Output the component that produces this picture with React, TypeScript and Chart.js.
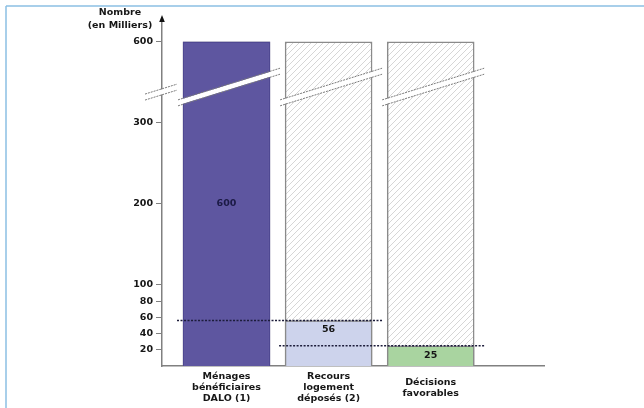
import React, { useEffect, useRef } from 'react';
import { Chart, registerables } from 'chart.js';
Chart.register(...registerables);

const categories = [
  ['Ménages', 'bénéficiaires', 'DALO (1)'],
  ['Recours', 'logement', 'déposés (2)'],
  ['Décisions', 'favorables'],
];
const values = [600, 56, 25];
const totals = [600, 600, 600];
const yTickValues = [20, 40, 60, 80, 100, 200, 300, 600];
const yTitle = ['Nombre', '(en Milliers)'];
const breakStart = 300;
const breakEnd = 600;
const breakMark = 430;
const barColors = ['#5e56a0', '#cdd3ec', '#a9d4a0'];
const barBorders = ['#4f4892', '#8a8a8a', '#8a8a8a'];
const labelPlacement = ['center', 'top', 'center'];

const FONT = '"DejaVu Sans", Verdana, sans-serif';
const TEXT = '#161616';

// axis position with the break between 300 and 600 compressed
const pos = (v: number) => (v <= breakStart ? v : breakStart + ((v - breakStart) * 100) / (breakEnd - breakStart));

function makeHatch(): CanvasPattern | string {
  const c = document.createElement('canvas');
  c.width = 6;
  c.height = 6;
  const g = c.getContext('2d');
  if (!g) return '#fff';
  g.fillStyle = '#ffffff';
  g.fillRect(0, 0, 6, 6);
  g.strokeStyle = '#d6d6d6';
  g.lineWidth = 1;
  g.beginPath();
  g.moveTo(0, 6); g.lineTo(6, 0);
  g.moveTo(-1, 1); g.lineTo(1, -1);
  g.moveTo(5, 7); g.lineTo(7, 5);
  g.stroke();
  return g.createPattern(c, 'repeat') || '#fff';
}

const decorPlugin = {
  id: 'decor',
  beforeDraw(chart: any) {
    const ctx = chart.ctx;
    ctx.save();
    ctx.strokeStyle = '#8cc0e4';
    ctx.lineWidth = 1.5;
    ctx.beginPath();
    ctx.moveTo(6, 6); ctx.lineTo(chart.width, 6);
    ctx.moveTo(6, 6); ctx.lineTo(6, chart.height);
    ctx.stroke();
    ctx.restore();
  },
  afterDraw(chart: any) {
    const ctx = chart.ctx;
    const ys = chart.scales.y;
    const area = chart.chartArea;
    const overlay = chart.getDatasetMeta(1);
    const back = chart.getDatasetMeta(0);
    ctx.save();

    // dotted level lines
    ctx.strokeStyle = '#1c1c3a';
    ctx.lineWidth = 1.5;
    ctx.setLineDash([2, 1.5]);
    overlay.data.forEach((bar: any, i: number) => {
      if (i === 0) return;
      const prev = overlay.data[i - 1];
      const x0 = prev.x - prev.width / 2 - 6;
      const x1 = bar.x + bar.width / 2 + 10;
      ctx.beginPath();
      ctx.moveTo(x0, bar.y);
      ctx.lineTo(x1, bar.y);
      ctx.stroke();
    });
    ctx.setLineDash([]);

    // value labels
    ctx.font = `bold 9.5px ${FONT}`;
    ctx.textAlign = 'center';
    ctx.textBaseline = 'middle';
    overlay.data.forEach((bar: any, i: number) => {
      const y = labelPlacement[i] === 'center' ? (bar.y + bar.base) / 2 : bar.y + 9;
      ctx.fillStyle = i === 0 ? '#1b1a45' : TEXT;
      ctx.fillText(String(values[i]), bar.x, y);
    });

    // break marks
    const slope = 0.31;
    const cyBase = ys.getPixelForValue(pos(breakMark));
    const drawBreak = (x0: number, x1: number, cx: number, cy: number, dashColor: string) => {
      const yAt = (x: number) => cy - (x - cx) * slope;
      const h = 3;
      ctx.fillStyle = '#ffffff';
      ctx.beginPath();
      ctx.moveTo(x0, yAt(x0) - h + 0.5);
      ctx.lineTo(x1, yAt(x1) - h + 0.5);
      ctx.lineTo(x1, yAt(x1) + h - 0.5);
      ctx.lineTo(x0, yAt(x0) + h - 0.5);
      ctx.closePath();
      ctx.fill();
      ctx.strokeStyle = dashColor;
      ctx.lineWidth = 1;
      ctx.setLineDash([2, 1]);
      for (const d of [-h, h]) {
        ctx.beginPath();
        ctx.moveTo(x0, yAt(x0) + d);
        ctx.lineTo(x1, yAt(x1) + d);
        ctx.stroke();
      }
      ctx.setLineDash([]);
    };
    back.data.forEach((bar: any) => {
      const l = bar.x - bar.width / 2 - 5;
      const r = bar.x + bar.width / 2 + 10;
      drawBreak(l, r, bar.x, cyBase, '#7a7a7a');
    });
    drawBreak(area.left - 17, area.left + 15, area.left, cyBase + 4, '#7a7a7a');

    // axis arrow
    ctx.fillStyle = '#111';
    ctx.beginPath();
    ctx.moveTo(area.left, area.top - 5);
    ctx.lineTo(area.left - 2.8, area.top + 2);
    ctx.lineTo(area.left + 2.8, area.top + 2);
    ctx.closePath();
    ctx.fill();

    // axis title
    ctx.fillStyle = TEXT;
    ctx.font = `bold 9.5px ${FONT}`;
    ctx.textAlign = 'center';
    ctx.textBaseline = 'middle';
    yTitle.forEach((t, i) => ctx.fillText(t, area.left - 42, 13 + i * 13));
    ctx.restore();
  },
};

export default function App() {
  const ref = useRef<HTMLCanvasElement | null>(null);
  useEffect(() => {
    if (!ref.current) return;
    const hatch = makeHatch();
    const chart = new Chart(ref.current, {
      type: 'bar',
      data: {
        datasets: [
          {
            label: 'total',
            data: totals.map((v, i) => ({ x: i, y: pos(v) })),
            backgroundColor: hatch as any,
            borderColor: '#8a8a8a',
            borderWidth: 1.5,
            borderSkipped: 'start',
            barThickness: 87,
            grouped: false,
            order: 2,
          },
          {
            label: 'valeur',
            data: values.map((v, i) => ({ x: i, y: pos(v) })),
            backgroundColor: barColors,
            borderColor: barBorders,
            borderWidth: 1.5,
            borderSkipped: 'start',
            barThickness: 87,
            grouped: false,
            order: 1,
          },
        ],
      },
      options: {
        responsive: false,
        animation: false,
        events: [],
        layout: { padding: { top: 20, right: 100, left: 0, bottom: 0 } },
        plugins: { legend: { display: false }, tooltip: { enabled: false } },
        scales: {
          x: {
            type: 'linear',
            offset: false,
            min: -0.632,
            max: 3.11,
            afterBuildTicks: (s: any) => {
              s.ticks = categories.map((_, i) => ({ value: i }));
            },
            afterFit: (s: any) => {
              s.height = 42;
            },
            grid: { display: true, offset: false, drawOnChartArea: false, drawTicks: false },
            border: { display: true, color: '#808080', width: 1.5 },
            ticks: {
              autoSkip: false,
              maxRotation: 0,
              crossAlign: 'center',
              padding: 11,
              color: TEXT,
              font: { family: FONT, size: 9.5, weight: 'bold', lineHeight: 1.15 },
              callback: (_v: any, i: number) => categories[i],
            },
          },
          y: {
            type: 'linear',
            min: 0,
            max: 427,
            afterBuildTicks: (s: any) => {
              s.ticks = yTickValues.map((v) => ({ value: pos(v) }));
            },
            afterFit: (s: any) => {
              s.width = 162;
            },
            grid: { display: true, drawOnChartArea: false, drawTicks: true, tickLength: 6, color: '#808080', lineWidth: 1 },
            border: { display: true, color: '#808080', width: 1.5 },
            ticks: {
              autoSkip: false,
              padding: 3,
              color: TEXT,
              font: { family: FONT, size: 9.5, weight: 'bold' },
              callback: (_v: any, i: number) => String(yTickValues[i]),
            },
          },
        },
      } as any,
      plugins: [decorPlugin],
    });
    return () => chart.destroy();
  }, []);
  return (
    <div style={{ position: 'fixed', left: 0, top: 0, width: 644, height: 408, background: '#fff' }}>
      <canvas ref={ref} width={644} height={408} style={{ display: 'block', width: 644, height: 408 }} />
    </div>
  );
}
